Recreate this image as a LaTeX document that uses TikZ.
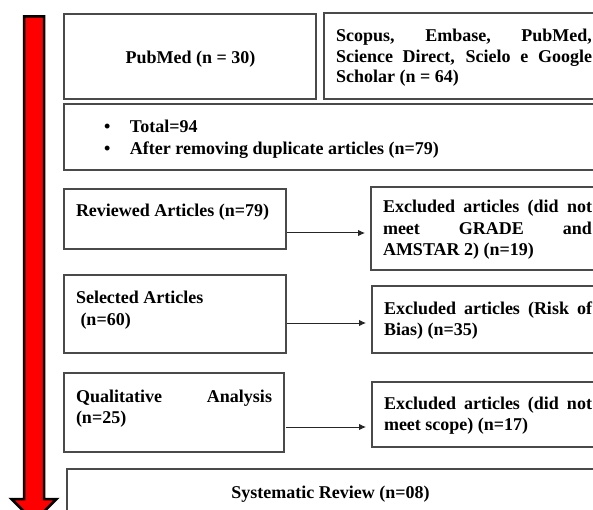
\documentclass[tikz,border=0pt]{standalone}
\usepackage{fontspec}
\setmainfont{Liberation Serif}
\usetikzlibrary{arrows.meta,calc}
\definecolor{boxline}{HTML}{4A4A4A}
\tolerance=10000
\hbadness=10000
\begin{document}
\begin{tikzpicture}[x=1pt,y=-1pt,
  box/.style={draw=boxline,line width=1.2pt,inner sep=0pt,outer sep=0pt,anchor=north west},
  txt/.style={inner sep=0pt,outer sep=0pt,font=\fontsize{18}{21.5}\selectfont\bfseries},
  para/.style={txt,align=justify,anchor=base west},
  flow/.style={draw=black!85,line width=1pt,-{Latex[length=7pt,width=6.5pt]}}]
\useasboundingbox (0,0) rectangle (593,510);
\clip (0,0) rectangle (593,510);
\fill[white] (0,0) rectangle (593,510);
% big red arrow
\draw[fill=red,draw=black,line width=2.5pt,line join=miter]
  (24,16.3) -- (44,16.3) -- (44,499) -- (56.5,499) -- (34,521.5) -- (11.5,499) -- (24,499) -- cycle;
% boxes
\node[box,minimum width=252pt,minimum height=85pt] (b1) at (64,14) {};
\node[box,minimum width=300pt,minimum height=86pt] (b2) at (324,13) {};
\node[box,minimum width=560pt,minimum height=66pt] (b3) at (64,104) {};
\node[box,minimum width=222pt,minimum height=60pt] (b4) at (64,189) {};
\node[box,minimum width=250pt,minimum height=83pt] (b5) at (371,187) {};
\node[box,minimum width=222pt,minimum height=78pt] (b6) at (64,275) {};
\node[box,minimum width=250pt,minimum height=67pt] (b7) at (372,286) {};
\node[box,minimum width=220pt,minimum height=79pt] (b8) at (64,373) {};
\node[box,minimum width=250pt,minimum height=65pt] (b9) at (372,382) {};
\node[box,minimum width=560pt,minimum height=80pt] (b10) at (67,469) {};
% texts
\node[txt,anchor=base] (t1) at (190.5,64) {PubMed (n = 30)};
\node[para,text width=256pt,font=\fontsize{18}{20.5}\selectfont\bfseries] (t2) at (336,42)
  {Scopus, Embase, PubMed,\linebreak Science Direct, Scielo e Google\linebreak Scholar (n = 64)};
\node[txt,align=left,anchor=base west,font=\fontsize{18}{22}\selectfont\bfseries] (t3) at (104,155)
  {\makebox[26pt][l]{\textbullet}Total=94\\\makebox[26pt][l]{\textbullet}After removing duplicate articles (n=79)};
\node[txt,anchor=base west] (t4) at (76,217) {Reviewed Articles (n=79)};
\node[para,text width=209pt] (t5) at (383,213)
  {Excluded articles (did not\linebreak meet GRADE and\linebreak AMSTAR 2) (n=19)};
\node[txt,align=left,anchor=base west,font=\fontsize{18}{22}\selectfont\bfseries] (t6) at (76,325)
  {Selected Articles\\\hspace*{4.5pt}(n=60)};
\node[para,text width=208pt] (t7) at (384,314)
  {Excluded articles (Risk of\linebreak Bias) (n=35)};
\node[para,text width=196pt] (t8) at (76,402)
  {Qualitative Analysis\linebreak (n=25)};
\node[para,text width=208pt] (t9) at (384,409)
  {Excluded articles (did not\linebreak meet scope) (n=17)};
\node[txt,anchor=base] (t10) at (330.5,498) {Systematic Review (n=08)};
% connectors
\draw[flow] ($(b4.south east)+(1,-16)$) -- ($(b4.south east -| b5.west)+(-6,-16)$);
\draw[flow] ($(b6.south east)+(1,-30)$) -- ($(b6.south east -| b7.west)+(-6,-30)$);
\draw[flow] ($(b8.south east)+(2,-25)$) -- ($(b8.south east -| b9.west)+(-6,-25)$);
\end{tikzpicture}
\end{document}
